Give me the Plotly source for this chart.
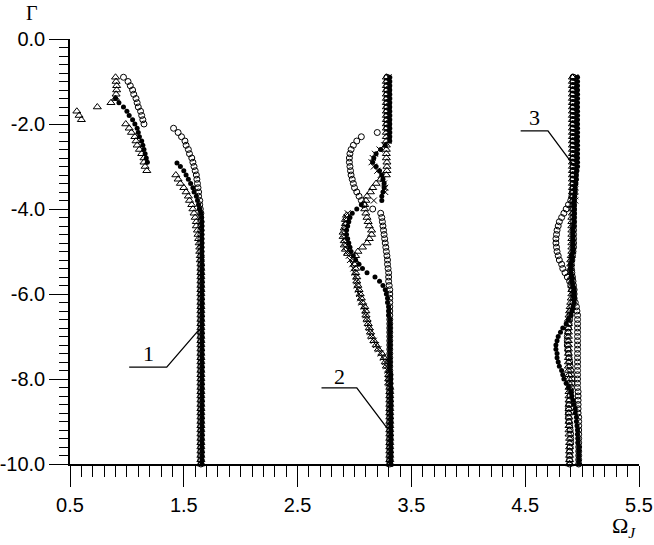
"""
Ramos de frequência Omega_J em função do parâmetro Gamma (modos 1, 2 e 3).
"""

import plotly.graph_objects as go

N = None

# Grade de Gamma usada em todas as séries
GAMMA = [
    -0.9, -1.0, -1.1, -1.2, -1.3, -1.4, -1.5, -1.6, -1.7, -1.8,
    -1.9, -2.0, -2.1, -2.2, -2.3, -2.4, -2.5, -2.6, -2.7, -2.8,
    -2.9, -3.0, -3.1, -3.2, -3.3, -3.4, -3.5, -3.6, -3.7, -3.8,
    -3.9, -4.0, -4.1, -4.2, -4.3, -4.4, -4.5, -4.6, -4.7, -4.8,
    -4.9, -5.0, -5.1, -5.2, -5.3, -5.4, -5.5, -5.6, -5.7, -5.8,
    -5.9, -6.0, -6.1, -6.2, -6.3, -6.4, -6.5, -6.6, -6.7, -6.8,
    -6.9, -7.0, -7.1, -7.2, -7.3, -7.4, -7.5, -7.6, -7.7, -7.8,
    -7.9, -8.0, -8.1, -8.2, -8.3, -8.4, -8.5, -8.6, -8.7, -8.8,
    -8.9, -9.0, -9.1, -9.2, -9.3, -9.4, -9.5, -9.6, -9.7, -9.8,
    -9.9, -10.0,
]

# ---------------- Modo 1 ----------------
MODO1_CHEIO = [
    N, N, N, N, N, 0.90, 0.93, 0.97, 1.00, 1.02,
    1.05, 1.07, 1.09, 1.10, 1.11, 1.13, 1.14, 1.15, 1.16, 1.17,
    1.18, 1.47, 1.50, 1.52, 1.54, 1.56, 1.58, 1.59, 1.61, 1.62,
    1.63, 1.64, 1.65, 1.655, 1.66, 1.66, 1.66, 1.66, 1.66, 1.66,
    1.66, 1.66, 1.66, 1.66, 1.66, 1.66, 1.66, 1.66, 1.66, 1.66,
    1.66, 1.66, 1.66, 1.66, 1.66, 1.66, 1.66, 1.66, 1.66, 1.66,
    1.66, 1.66, 1.66, 1.66, 1.66, 1.66, 1.66, 1.66, 1.66, 1.66,
    1.66, 1.66, 1.66, 1.66, 1.66, 1.66, 1.66, 1.66, 1.66, 1.66,
    1.66, 1.66, 1.66, 1.66, 1.66, 1.66, 1.66, 1.66, 1.66, 1.66,
    1.66, 1.66,
]
MODO1_CIRCULO = [
    0.97, 1.01, 1.03, 1.05, 1.06, 1.08, 1.09, 1.10, 1.12, 1.13,
    1.14, 1.15, 1.41, 1.45, 1.48, 1.51, 1.52, 1.54, 1.55, 1.57,
    1.58, 1.59, 1.60, 1.61, 1.615, 1.62, 1.625, 1.63, 1.63, 1.64,
    1.64, 1.645, 1.65, 1.65, 1.65, 1.65, 1.65, 1.65, 1.65, 1.65,
    1.65, 1.65, 1.65, 1.65, 1.65, 1.65, 1.65, 1.65, 1.65, 1.65,
    1.65, 1.65, 1.65, 1.65, 1.65, 1.65, 1.65, 1.65, 1.65, 1.65,
    1.65, 1.65, 1.65, 1.65, 1.65, 1.65, 1.65, 1.65, 1.65, 1.65,
    1.65, 1.65, 1.65, 1.65, 1.65, 1.65, 1.65, 1.65, 1.65, 1.65,
    1.65, 1.65, 1.65, 1.65, 1.65, 1.65, 1.65, 1.65, 1.65, 1.65,
    1.65, 1.65,
]
MODO1_TRIANGULO = [
    0.90, 0.905, 0.91, 0.91, 0.905, 0.90, 0.86, 0.74, 0.56, 0.58,
    0.60, 0.99, 1.02, 1.04, 1.07, 1.08, 1.09, 1.11, 1.13, 1.15,
    1.15, 1.16, 1.175, 1.43, 1.45, 1.47, 1.50, 1.52, 1.54, 1.55,
    1.57, 1.58, 1.59, 1.60, 1.61, 1.61, 1.62, 1.625, 1.63, 1.635,
    1.64, 1.64, 1.645, 1.645, 1.65, 1.65, 1.65, 1.65, 1.65, 1.65,
    1.65, 1.65, 1.65, 1.65, 1.65, 1.65, 1.65, 1.65, 1.65, 1.65,
    1.65, 1.65, 1.65, 1.65, 1.65, 1.65, 1.65, 1.65, 1.65, 1.65,
    1.65, 1.65, 1.65, 1.65, 1.65, 1.65, 1.65, 1.65, 1.65, 1.65,
    1.65, 1.65, 1.65, 1.65, 1.65, 1.65, 1.65, 1.65, 1.65, 1.65,
    1.65, 1.65,
]
MODO1_CHEIO_EXTRA_G = [-2.92]
MODO1_CHEIO_EXTRA_W = [1.44]

# ---------------- Modo 2 ----------------
MODO2_CHEIO = [
    3.31, 3.31, 3.31, 3.31, 3.31, 3.31, 3.31, 3.31, 3.31, 3.31,
    3.31, 3.31, 3.31, 3.31, 3.31, 3.31, 3.27, 3.23, 3.19, 3.17,
    3.16, 3.19, 3.22, 3.24, 3.25, 3.26, 3.26, 3.25, 3.24, 3.24,
    3.06, 3.02, 2.98, 2.96, 2.95, 2.94, 2.93, 2.93, 2.94, 2.95,
    2.96, 2.97, 2.99, 3.01, 3.04, 3.07, 3.11, 3.18, 3.22, 3.25,
    3.27, 3.28, 3.29, 3.29, 3.30, 3.30, 3.30, 3.31, 3.31, 3.31,
    3.31, 3.31, 3.31, 3.31, 3.31, 3.31, 3.31, 3.31, 3.31, 3.31,
    3.32, 3.32, 3.32, 3.32, 3.32, 3.32, 3.32, 3.32, 3.32, 3.32,
    3.32, 3.32, 3.32, 3.32, 3.32, 3.32, 3.32, 3.32, 3.32, 3.32,
    3.32, 3.32,
]
MODO2_CRUZ = [
    3.30, 3.30, 3.30, 3.30, 3.30, 3.30, 3.30, 3.30, 3.30, 3.30,
    3.30, 3.30, 3.30, 3.30, 3.30, 3.30, 3.26, 3.22, 3.18, 3.16,
    3.15, 3.17, 3.20, 3.23, 3.25, 3.26, 3.27, 3.27, N, 3.17,
    N, N, 2.94, 2.93, 2.92, 2.92, 2.91, 2.91, 2.91, 2.92,
    2.92, 2.93, 2.95, 2.96, 2.98, 2.99, 3.00, 3.01, 3.02, 3.02,
    3.03, 3.04, 3.05, 3.06, 3.08, 3.09, 3.10, 3.11, 3.12, 3.13,
    3.14, 3.15, 3.17, 3.19, 3.21, 3.23, 3.25, 3.27, 3.28, 3.29,
    3.30, 3.30, 3.30, 3.31, 3.31, 3.31, 3.31, 3.31, 3.31, 3.31,
    3.31, 3.31, 3.31, 3.31, 3.31, 3.31, 3.31, 3.31, 3.31, 3.31,
    3.31, 3.31,
]
MODO2_TRIANGULO = [
    3.28, 3.28, 3.28, 3.28, 3.28, 3.28, 3.28, 3.28, 3.28, 3.28,
    3.28, 3.28, 3.28, 3.28, 3.28, 3.28, 3.28, 3.28, 3.28, 3.28,
    3.285, 3.285, 3.285, 3.28, 3.23, 3.19, 3.16, 3.14, 3.11, 3.10,
    3.09, 3.09, 3.10, 3.11, 3.12, 3.13, 3.15, 3.15, 3.13, 3.11,
    3.07, 3.03, 3.01, 3.00, 3.00, 3.01, 3.01, 3.02, 3.02, 3.03,
    3.04, 3.05, 3.06, 3.07, 3.09, 3.10, 3.10, 3.11, 3.12, 3.13,
    3.14, 3.15, 3.17, 3.19, 3.21, 3.24, 3.26, 3.27, 3.28, 3.30,
    3.30, 3.30, 3.30, 3.31, 3.31, 3.31, 3.31, 3.31, 3.31, 3.31,
    3.31, 3.31, 3.31, 3.31, 3.31, 3.31, 3.31, 3.31, 3.31, 3.31,
    3.31, 3.31,
]
MODO2_TRIANGULO_EXTRA_G = [-4.15, -4.25, -4.35, -4.45, -4.55, -4.65, -4.75, -4.85, -4.95, -5.05]
MODO2_TRIANGULO_EXTRA_W = [2.93, 2.92, 2.92, 2.91, 2.90, 2.90, 2.91, 2.91, 2.92, 2.94]
MODO2_CIRCULO = [
    3.285, 3.285, 3.285, 3.285, 3.285, 3.285, 3.285, 3.285, 3.285, 3.285,
    3.285, 3.285, 3.285, 3.20, 3.06, 3.02, 2.99, 2.97, 2.96, 2.955,
    2.955, 2.96, 2.965, 2.97, 2.98, 2.99, 3.00, 3.02, 3.04, 3.06,
    3.08, 3.16, 3.23, 3.24, 3.245, 3.25, 3.255, 3.26, 3.265, 3.27,
    3.275, 3.28, 3.285, 3.29, 3.29, 3.295, 3.30, 3.30, 3.30, 3.305,
    3.31, 3.31, 3.31, 3.31, 3.31, 3.31, 3.31, 3.31, 3.31, 3.31,
    3.31, 3.31, 3.31, 3.31, 3.31, 3.31, 3.31, 3.31, 3.31, 3.31,
    3.31, 3.31, 3.31, 3.31, 3.31, 3.31, 3.31, 3.31, 3.31, 3.31,
    3.31, 3.31, 3.31, 3.31, 3.31, 3.31, 3.31, 3.31, 3.31, 3.31,
    3.31, 3.31,
]

# ---------------- Modo 3 ----------------
MODO3_CHEIO = [
    4.96, 4.96, 4.96, 4.96, 4.96, 4.96, 4.96, 4.96, 4.96, 4.96,
    4.96, 4.96, 4.96, 4.96, 4.96, 4.96, 4.96, 4.96, 4.96, 4.96,
    4.96, 4.96, 4.955, 4.95, 4.95, 4.945, 4.94, 4.94, 4.935, 4.93,
    4.93, 4.93, 4.93, 4.93, 4.93, 4.925, 4.92, 4.92, 4.92, 4.92,
    4.92, 4.92, 4.91, 4.91, 4.90, 4.90, 4.90, 4.91, 4.91, 4.92,
    4.93, 4.93, 4.93, 4.93, 4.92, 4.91, 4.90, 4.88, 4.86, 4.83,
    4.81, 4.79, 4.78, 4.77, 4.77, 4.78, 4.78, 4.79, 4.80, 4.82,
    4.83, 4.84, 4.86, 4.88, 4.90, 4.91, 4.92, 4.93, 4.94, 4.94,
    4.95, 4.95, 4.955, 4.96, 4.96, 4.965, 4.965, 4.97, 4.97, 4.97,
    4.97, 4.97,
]
MODO3_CIRCULO = [
    4.92, 4.92, 4.92, 4.92, 4.92, 4.92, 4.92, 4.92, 4.92, 4.92,
    4.92, 4.92, 4.92, 4.92, 4.92, 4.92, 4.92, 4.92, 4.92, 4.92,
    4.92, 4.92, 4.92, 4.92, 4.92, 4.92, 4.92, 4.915, 4.91, 4.90,
    4.88, 4.86, 4.84, 4.82, 4.80, 4.79, 4.78, 4.775, 4.77, 4.77,
    4.775, 4.78, 4.79, 4.80, 4.82, 4.83, 4.85, 4.87, 4.89, 4.90,
    4.91, 4.92, 4.93, 4.94, 4.95, 4.955, 4.96, 4.96, 4.96, 4.96,
    4.96, 4.96, 4.96, 4.96, 4.96, 4.96, 4.96, 4.96, 4.96, 4.96,
    4.96, 4.96, 4.96, 4.96, 4.965, 4.965, 4.965, 4.965, 4.965, 4.965,
    4.97, 4.97, 4.97, 4.97, 4.97, 4.97, 4.97, 4.97, 4.97, 4.97,
    4.97, 4.97,
]
MODO3_TRIANGULO = [
    4.915, 4.915, 4.915, 4.915, 4.915, 4.915, 4.915, 4.915, 4.915, 4.915,
    4.915, 4.915, 4.915, 4.915, 4.915, 4.915, 4.915, 4.915, 4.915, 4.915,
    4.915, 4.915, 4.915, 4.915, 4.915, 4.915, 4.915, 4.915, 4.915, 4.915,
    4.915, 4.915, 4.915, 4.91, 4.91, 4.91, 4.91, 4.91, 4.91, 4.91,
    4.91, 4.91, 4.905, 4.90, 4.90, 4.90, 4.90, 4.905, 4.91, 4.91,
    4.91, 4.91, 4.905, 4.90, 4.895, 4.89, 4.885, 4.88, 4.88, 4.88,
    4.88, 4.88, 4.88, 4.88, 4.88, 4.88, 4.88, 4.88, 4.88, 4.88,
    4.885, 4.885, 4.885, 4.885, 4.885, 4.885, 4.885, 4.885, 4.885, 4.885,
    4.885, 4.885, 4.885, 4.885, 4.885, 4.89, 4.89, 4.89, 4.89, 4.89,
    4.89, 4.89,
]
MODO3_CIRCULO_B = [
    4.925, 4.925, 4.925, 4.925, 4.925, 4.925, 4.925, 4.925, 4.925, 4.925,
    4.925, 4.925, 4.925, 4.925, 4.925, 4.925, 4.925, 4.925, 4.925, 4.925,
    4.925, 4.925, 4.925, 4.925, 4.925, 4.925, 4.925, 4.925, 4.925, 4.925,
    4.925, 4.925, 4.925, 4.925, 4.925, 4.925, 4.925, 4.925, 4.925, 4.925,
    4.925, 4.92, 4.915, 4.91, 4.905, 4.905, 4.91, 4.915, 4.92, 4.925,
    4.93, 4.93, 4.925, 4.92, 4.91, 4.90, 4.895, 4.89, 4.885, 4.88,
    4.875, 4.87, 4.87, 4.87, 4.875, 4.88, 4.885, 4.89, 4.895, 4.90,
    4.905, 4.91, 4.91, 4.905, 4.90, 4.895, 4.89, 4.885, 4.88, 4.88,
    4.88, 4.885, 4.89, 4.895, 4.90, 4.90, 4.90, 4.895, 4.89, 4.89,
    4.89, 4.89,
]
MODO3_CRUZ = [
    4.94, 4.94, 4.94, 4.94, 4.94, 4.94, 4.94, 4.94, 4.94, 4.94,
    4.94, 4.94, 4.94, 4.94, 4.94, 4.94, 4.94, 4.94, 4.94, 4.94,
    4.94, 4.94, 4.94, 4.94, 4.94, 4.94, 4.94, 4.94, 4.94, 4.94,
]

# Rótulos dos eixos
X_TICKS = [0.5, 1.5, 2.5, 3.5, 4.5, 5.5]
X_TICK_TEXT = ["0.5", "1.5", "2.5", "3.5", "4.5", "5.5"]
Y_TICKS = [0, -2, -4, -6, -8, -10]
Y_TICK_TEXT = ["0.0", "-2.0", "-4.0", "-6.0", "-8.0", "-10.0"]

FONTE_EIXO = "Liberation Sans, Arial, sans-serif"
FONTE_SERIF = "Liberation Serif, Times New Roman, serif"


def criar_grafico_modos() -> go.Figure:
    """Cria o gráfico dos três modos com marcadores pretos."""
    fig = go.Figure()

    # Estilos dos marcadores (cheio, círculo aberto, triângulo aberto, cruz)
    estilo = {
        'cheio': dict(symbol='circle', size=5, color='black', line=dict(width=0)),
        'circulo': dict(symbol='circle-open', size=6, color='black', line=dict(width=1)),
        'triangulo': dict(symbol='triangle-up-open', size=7, color='black', line=dict(width=1)),
        'cruz': dict(symbol='x-thin-open', size=6, color='black', line=dict(width=1)),
    }

    series = [
        (MODO1_TRIANGULO, GAMMA, 'triangulo'),
        (MODO1_CIRCULO, GAMMA, 'circulo'),
        (MODO1_CHEIO + MODO1_CHEIO_EXTRA_W, GAMMA + MODO1_CHEIO_EXTRA_G, 'cheio'),
        (MODO2_TRIANGULO + MODO2_TRIANGULO_EXTRA_W, GAMMA + MODO2_TRIANGULO_EXTRA_G, 'triangulo'),
        (MODO2_CIRCULO, GAMMA, 'circulo'),
        (MODO2_CRUZ, GAMMA, 'cruz'),
        (MODO2_CHEIO, GAMMA, 'cheio'),
        (MODO3_TRIANGULO, GAMMA, 'triangulo'),
        (MODO3_CIRCULO_B, GAMMA, 'circulo'),
        (MODO3_CIRCULO, GAMMA, 'circulo'),
        (MODO3_CRUZ, GAMMA[:len(MODO3_CRUZ)], 'cruz'),
        (MODO3_CHEIO, GAMMA, 'cheio'),
    ]

    for omega, gamma, tipo in series:
        fig.add_trace(go.Scatter(
            x=omega,
            y=gamma,
            mode='markers',
            marker=estilo[tipo],
            cliponaxis=False,
            showlegend=False,
            hoverinfo='skip'
        ))

    # Linhas de chamada dos números dos modos
    chamadas = [
        ("1", 1.19, -7.39, "M 1.02,-7.72 L 1.35,-7.72 L 1.64,-6.82"),
        ("2", 2.87, -7.93, "M 2.71,-8.21 L 3.02,-8.21 L 3.28,-9.13"),
        ("3", 4.58, -1.84, "M 4.46,-2.16 L 4.70,-2.16 L 4.93,-2.99"),
    ]
    for texto, xt, yt, caminho in chamadas:
        fig.add_shape(type='path', path=caminho, xref='x', yref='y',
                      line=dict(color='black', width=1.3))
        fig.add_annotation(x=xt, y=yt, xref='x', yref='y', text=texto,
                           showarrow=False, font=dict(family=FONTE_SERIF, size=22, color='black'))

    # Títulos dos eixos
    fig.add_annotation(x=-0.066, y=1.092, xref='paper', yref='paper', text="Γ",
                       xanchor='center', yanchor='top',
                       showarrow=False, font=dict(family=FONTE_SERIF, size=20, color='black'))
    fig.add_annotation(x=0.974, y=-0.148, xref='paper', yref='paper',
                       text="Ω<sub><i>J</i></sub>",
                       xanchor='center', yanchor='middle',
                       showarrow=False, font=dict(family=FONTE_SERIF, size=22, color='black'))

    # Configura o layout
    fig.update_layout(
        width=654,
        height=545,
        margin=dict(l=70, r=15, t=39, b=81),
        paper_bgcolor='white',
        plot_bgcolor='white',
        font=dict(family=FONTE_EIXO, size=20, color='black'),
        xaxis=dict(
            range=[0.5, 5.5],
            automargin=False,
            showgrid=False,
            zeroline=False,
            showline=True,
            linecolor='black',
            linewidth=1.5,
            tickmode='array',
            tickvals=X_TICKS,
            ticktext=X_TICK_TEXT,
            ticklabeloverflow='allow',
            ticklabelstandoff=1,
            ticks='outside',
            ticklen=21,
            tickwidth=1.3,
            tickcolor='black',
            minor=dict(tick0=0.5, dtick=0.1, ticks='outside', ticklen=11,
                       tickwidth=1.1, tickcolor='black', showgrid=False),
        ),
        yaxis=dict(
            range=[-10, 0],
            automargin=False,
            showgrid=False,
            zeroline=False,
            showline=True,
            linecolor='black',
            linewidth=1.5,
            tickmode='array',
            tickvals=Y_TICKS,
            ticktext=Y_TICK_TEXT,
            ticklabeloverflow='allow',
            ticks='outside',
            ticklen=19,
            tickwidth=1.3,
            tickcolor='black',
            minor=dict(tick0=0, dtick=0.2, ticks='outside', ticklen=9,
                       tickwidth=1.1, tickcolor='black', showgrid=False),
        ),
    )

    return fig


fig = criar_grafico_modos()
# Remove a margem padrão da página para o gráfico ocupar a janela inteira
fig.write_html("out.html", config={'displayModeBar': False},
               post_script="document.body.style.margin = '0';")
